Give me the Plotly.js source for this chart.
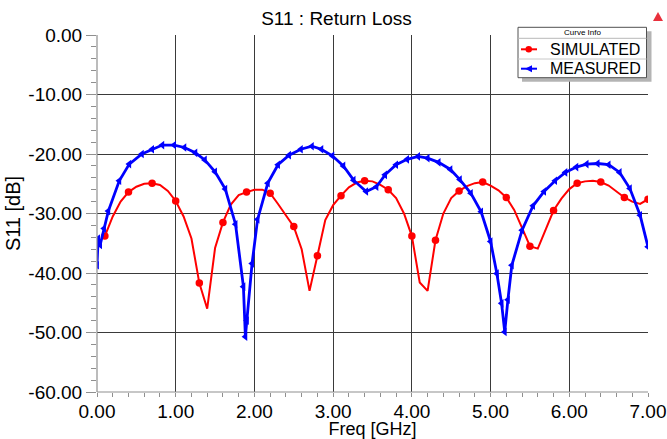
<!DOCTYPE html>
<html>
<head>
<meta charset="utf-8">
<script src="https://cdn.plot.ly/plotly-3.0.1.min.js"></script>
<style>html,body{margin:0;padding:0;background:#fff;}#chart{width:667px;height:439px;}</style>
</head>
<body>
<div id="chart"></div>
<script>
// ---------------- data ----------------
const simFreq = [0.1,0.2,0.3,0.4,0.5,0.6,0.7,0.8,0.9,1.0,1.1,1.2,1.3,1.4,1.5,1.6,1.7,1.8,1.9,2.0,
  2.1,2.2,2.3,2.4,2.5,2.6,2.7,2.8,2.9,3.0,3.1,3.2,3.3,3.4,3.5,3.6,3.7,3.8,3.9,4.0,
  4.1,4.2,4.3,4.4,4.5,4.6,4.7,4.8,4.9,5.0,5.1,5.2,5.3,5.4,5.5,5.6,5.7,5.8,5.9,6.0,
  6.1,6.2,6.3,6.4,6.5,6.6,6.7,6.8,6.9,7.0];
const simS11 = [-33.8,-30.5,-28.0,-26.4,-25.5,-25.0,-24.9,-25.2,-26.2,-27.9,
  -30.5,-34.2,-41.7,-46.0,-35.8,-31.5,-28.5,-26.9,-26.4,-26.0,
  -26.0,-26.6,-28.4,-30.2,-32.2,-36.0,-43.0,-37.1,-31.1,-28.6,
  -27.0,-25.6,-24.8,-24.5,-24.6,-25.2,-26.0,-27.4,-30.0,-33.8,
  -41.6,-43.0,-34.5,-30.0,-27.4,-26.2,-25.4,-24.9,-24.7,-25.3,
  -26.1,-27.3,-29.4,-32.4,-35.5,-35.9,-32.8,-29.5,-27.5,-25.9,
  -24.9,-24.6,-24.5,-24.7,-25.3,-26.3,-27.3,-28.0,-28.4,-27.6];
const measFreq = [0.0,0.015,0.04,0.09,0.144,0.283,0.41,0.57,0.70,0.83,0.98,1.11,1.25,1.37,1.50,1.63,1.76,1.86,1.885,1.905,
  1.97,2.04,2.17,2.30,2.44,2.59,2.73,2.85,2.99,3.13,3.26,3.42,3.55,3.66,3.80,3.94,4.08,4.20,4.34,4.49,
  4.61,4.75,4.88,5.00,5.08,5.14,5.18,5.22,5.27,5.40,5.54,5.68,5.82,5.95,6.09,6.22,6.36,6.50,6.64,6.77,6.90,7.0];
const measS11 = [-38.7,-34.2,-35.3,-32.5,-29.6,-24.5,-21.7,-20.0,-19.2,-18.5,-18.5,-18.9,-19.8,-21.0,-23.0,-25.9,-31.8,-42.3,-50.7,-48.0,
  -38.4,-31.0,-24.9,-21.8,-20.2,-19.2,-18.7,-19.2,-20.3,-22.0,-24.4,-26.3,-25.5,-23.5,-21.8,-20.9,-20.4,-20.7,-21.4,-22.6,
  -24.3,-26.6,-29.7,-34.7,-40.1,-45.1,-49.9,-44.5,-38.7,-32.8,-28.7,-26.3,-24.5,-23.1,-22.2,-21.7,-21.6,-21.8,-23.1,-25.8,-30.3,-35.6];
const xTickVals = [0,1,2,3,4,5,6,7];
const xTickText = ['0.00','1.00','2.00','3.00','4.00','5.00','6.00','7.00'];
const yTickVals = [0,-10,-20,-30,-40,-50,-60];
const yTickText = ['0.00','-10.00','-20.00','-30.00','-40.00','-50.00','-60.00'];
const seriesNames = ['SIMULATED','MEASURED'];
const chartTitle = 'S11 : Return Loss';
const xTitle = 'Freq [GHz]';
const yTitle = 'S11 [dB]';
const legendTitle = 'Curve Info';

// ---------------- geometry helpers ----------------
const W = 667, H = 439, ML = 97, MR = 19, MT = 35, MB = 47;
const PW = W - ML - MR, PH = H - MT - MB;
const fx = p => (p - ML) / PW;
const fy = p => (H - MB - p) / PH;

const RED = 'rgb(255,0,0)';
const BLUE = 'rgb(0,0,255)';
const FONT = 'Liberation Sans, Arial, sans-serif';
const GRID = '#3a3a3a';
const AXIS = '#8f8f8f';

// markers on every third simulated point
const simMX = simFreq.filter((_, i) => i % 3 === 0);
const simMY = simS11.filter((_, i) => i % 3 === 0);

const traces = [
  {x: simFreq, y: simS11, mode: 'lines', line: {color: RED, width: 2}, showlegend: false, hoverinfo: 'skip'},
  {x: simMX, y: simMY, mode: 'markers', marker: {color: RED, size: 7.5, symbol: 'circle'}, showlegend: false, name: seriesNames[0]},
  {x: measFreq, y: measS11, mode: 'lines+markers', line: {color: BLUE, width: 2.8},
   marker: {color: BLUE, size: 7.5, symbol: 'triangle-left'}, showlegend: false, name: seriesNames[1]}
];

// custom legend box (HFSS style)
const LB = {x0: 518, x1: 646.5, y0: 27.3, y1: 77.7, hdr: 38.3, sep: 59, row1: 49.3, row2: 68.7};
const shapes = [
  // left and bottom axis lines
  {type: 'line', xref: 'paper', yref: 'paper', x0: 0, x1: 0, y0: 0, y1: 1, line: {color: AXIS, width: 1.2}, layer: 'above'},
  {type: 'line', xref: 'paper', yref: 'paper', x0: 0, x1: 1, y0: 0, y1: 0, line: {color: AXIS, width: 1.2}, layer: 'above'},
  // legend shadow
  {type: 'rect', xref: 'paper', yref: 'paper', x0: fx(LB.x0 + 4), x1: fx(LB.x1 + 5), y0: fy(LB.y0 + 4), y1: fy(LB.y1 + 4),
   fillcolor: '#b4b4b4', line: {width: 0}, layer: 'above'},
  // legend box
  {type: 'rect', xref: 'paper', yref: 'paper', x0: fx(LB.x0), x1: fx(LB.x1), y0: fy(LB.y0), y1: fy(LB.y1),
   fillcolor: '#ffffff', line: {color: '#505050', width: 1}, layer: 'above'},
  {type: 'line', xref: 'paper', yref: 'paper', x0: fx(LB.x0), x1: fx(LB.x1), y0: fy(LB.hdr), y1: fy(LB.hdr),
   line: {color: '#b8b8b8', width: 1}, layer: 'above'},
  {type: 'line', xref: 'paper', yref: 'paper', x0: fx(LB.x0), x1: fx(LB.x1), y0: fy(LB.sep), y1: fy(LB.sep),
   line: {color: '#c8c8c8', width: 1}, layer: 'above'},
  // legend symbols
  {type: 'line', xref: 'paper', yref: 'paper', x0: fx(521), x1: fx(537), y0: fy(LB.row1), y1: fy(LB.row1),
   line: {color: RED, width: 2}, layer: 'above'},
  {type: 'circle', xref: 'paper', yref: 'paper', x0: fx(525.5), x1: fx(532), y0: fy(LB.row1 - 3.3), y1: fy(LB.row1 + 3.3),
   fillcolor: RED, line: {width: 0}, layer: 'above'},
  {type: 'line', xref: 'paper', yref: 'paper', x0: fx(521), x1: fx(537), y0: fy(LB.row2), y1: fy(LB.row2),
   line: {color: BLUE, width: 2}, layer: 'above'},
  {type: 'path', xref: 'paper', yref: 'paper',
   path: `M ${fx(525)} ${fy(LB.row2)} L ${fx(532)} ${fy(LB.row2 - 3.5)} L ${fx(532)} ${fy(LB.row2 + 3.5)} Z`,
   fillcolor: BLUE, line: {width: 0}, layer: 'above'},
  // small logo in the corner
  {type: 'path', xref: 'paper', yref: 'paper',
   path: `M ${fx(653)} ${fy(21)} L ${fx(663)} ${fy(21)} L ${fx(658)} ${fy(12)} Z`,
   fillcolor: '#e8303c', line: {width: 0}, layer: 'above'}
];

const annotations = [
  {xref: 'paper', yref: 'paper', x: fx((LB.x0 + LB.x1) / 2), y: fy((LB.y0 + LB.hdr) / 2), text: legendTitle,
   showarrow: false, xanchor: 'center', yanchor: 'middle', font: {family: FONT, size: 8, color: '#000'}},
  {xref: 'paper', yref: 'paper', x: fx(548), y: fy(LB.row1), text: seriesNames[0],
   showarrow: false, xanchor: 'left', yanchor: 'middle', font: {family: FONT, size: 16, color: '#000'}},
  {xref: 'paper', yref: 'paper', x: fx(548), y: fy(LB.row2), text: seriesNames[1],
   showarrow: false, xanchor: 'left', yanchor: 'middle', font: {family: FONT, size: 16, color: '#000'}}
];

const axisCommon = {
  showgrid: true, gridcolor: GRID, gridwidth: 1, zeroline: false, showline: false,
  ticks: 'outside', tickcolor: AXIS, tickwidth: 1, tickmode: 'array',
  tickfont: {family: FONT, size: 19, color: '#000'}, fixedrange: true
};

const layout = {
  width: W, height: H,
  margin: {l: ML, r: MR, t: MT, b: MB, pad: 0},
  paper_bgcolor: '#ffffff', plot_bgcolor: '#ffffff',
  font: {family: FONT, color: '#000'},
  showlegend: false,
  title: {text: chartTitle, x: 336.5 / W, xref: 'container', xanchor: 'center',
          y: 1 - 18 / H, yref: 'container', yanchor: 'middle', font: {family: FONT, size: 19, color: '#000'}},
  xaxis: Object.assign({}, axisCommon, {
    range: [0, 7], tickvals: xTickVals, ticktext: xTickText, ticklen: 2,
    minor: {dtick: 0.2, ticks: 'outside', ticklen: 4, tickcolor: AXIS, showgrid: false},
    title: {text: xTitle, font: {family: FONT, size: 18, color: '#000'}, standoff: 1}
  }),
  yaxis: Object.assign({}, axisCommon, {
    range: [-60, 0], tickvals: yTickVals, ticktext: yTickText, ticklen: 10,
    minor: {dtick: 2, ticks: 'outside', ticklen: 5, tickcolor: AXIS, showgrid: false},
    title: {text: yTitle, font: {family: FONT, size: 20, color: '#000'}, standoff: 2}
  }),
  shapes: shapes,
  annotations: annotations
};

Plotly.newPlot('chart', traces, layout, {staticPlot: true, displayModeBar: false});
</script>
</body>
</html>
